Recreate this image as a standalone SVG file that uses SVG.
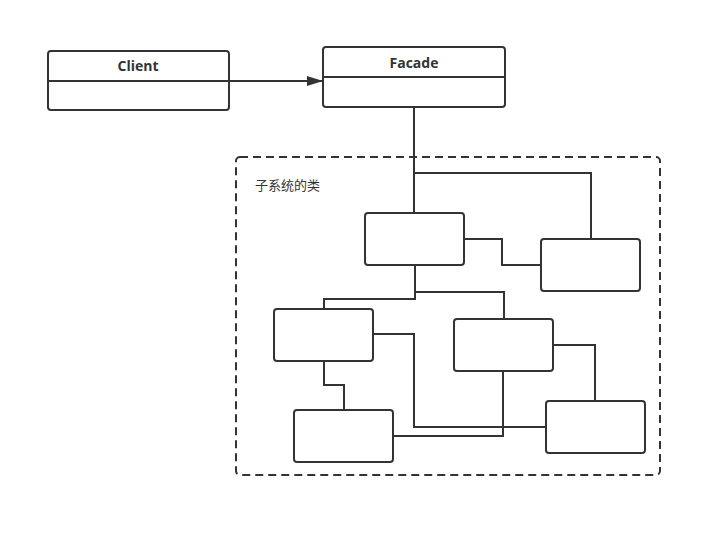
<svg xmlns="http://www.w3.org/2000/svg" width="722" height="538" viewBox="0 0 722 538">
<style>
.b{fill:#fff;stroke:#333;stroke-width:2}
.l{fill:none;stroke:#333;stroke-width:2}
.t{font-family:"Open Sans","Noto Sans",sans-serif;font-size:14px;font-weight:bold;fill:#333;text-anchor:middle}
.c{font-family:"Noto Sans CJK SC","Noto Sans",sans-serif;font-size:13px;fill:#333}
</style>
<defs>
<marker id="ar" markerWidth="16" markerHeight="10" refX="16" refY="5" orient="auto" markerUnits="userSpaceOnUse">
<path d="M0,0 L16,5 L0,10 Z" fill="#333"/>
</marker>
</defs>
<g id="subsystem">
<rect x="236" y="157" width="424" height="318" rx="4" fill="none" stroke="#333" stroke-width="2" stroke-dasharray="8,5"/>
<text class="c" x="255" y="190">子系统的类</text>
</g>
<g id="connectors">
<path class="l" d="M229,81 L323,81" marker-end="url(#ar)"/>
<path class="l" d="M414,107 L414,213"/>
<path class="l" d="M414,173 L591,173 L591,239"/>
<path class="l" d="M464,239 L502,239 L502,265 L541,265"/>
<path class="l" d="M415,265 L415,299 L324,299 L324,309"/>
<path class="l" d="M415,292 L504,292 L504,319"/>
<path class="l" d="M373,334 L414,334 L414,427 L546,427"/>
<path class="l" d="M324,361 L324,385 L344,385 L344,410"/>
<path class="l" d="M503,371 L503,436 L393,436"/>
<path class="l" d="M553,345 L595,345 L595,401"/>
</g>
<g id="client">
<rect class="b" x="48" y="51" width="181" height="59" rx="3"/>
<line class="l" x1="48" y1="81" x2="229" y2="81"/>
<text class="t" x="138" y="71">Client</text>
</g>
<g id="facade">
<rect class="b" x="323" y="47" width="182" height="60" rx="3"/>
<line class="l" x1="323" y1="77" x2="505" y2="77"/>
<text class="t" x="414" y="68">Facade</text>
</g>
<g id="a"><rect class="b" x="365" y="213" width="99" height="52" rx="3"/></g>
<g id="b"><rect class="b" x="541" y="239" width="99" height="52" rx="3"/></g>
<g id="c"><rect class="b" x="274" y="309" width="99" height="52" rx="3"/></g>
<g id="d"><rect class="b" x="454" y="319" width="99" height="52" rx="3"/></g>
<g id="e"><rect class="b" x="294" y="410" width="99" height="52" rx="3"/></g>
<g id="f"><rect class="b" x="546" y="401" width="99" height="52" rx="3"/></g>
</svg>
